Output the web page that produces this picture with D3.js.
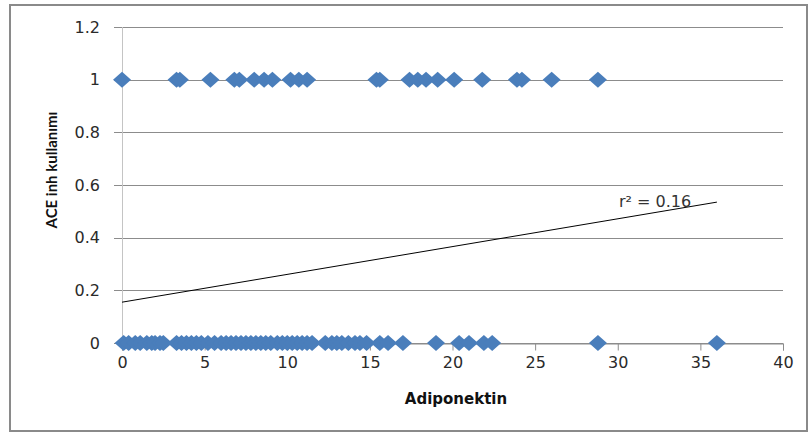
<!DOCTYPE html>
<html>
<head>
<meta charset="utf-8">
<script src="https://cdn.jsdelivr.net/npm/d3@7"></script>
<style>
  body { margin: 0; background: #fff; }
  svg { display: block; }
</style>
</head>
<body>
<div id="chart"></div>
<script>
// values (Adiponektin vs ACE inh kullanımı)
const usersX = [0, 3.3, 3.5, 5.35, 6.8, 7.1, 8.0, 8.6, 9.1, 10.2, 10.7, 11.2,
  15.4, 15.6, 17.4, 17.9, 18.4, 19.1, 20.1, 21.8, 23.9, 24.2, 26.0, 28.8];
const nonUsersX = [0.1, 0.4, 0.8, 1.1, 1.5, 1.8, 2.0, 2.3, 2.5, 3.3, 3.6, 3.9,
  4.2, 4.5, 4.8, 5.2, 5.6, 6.0, 6.3, 6.6, 6.9, 7.2, 7.5, 7.8, 8.1, 8.4, 8.7,
  9.0, 9.4, 9.7, 10.0, 10.3, 10.6, 10.9, 11.2, 11.5, 12.3, 12.7, 13.0, 13.3,
  13.7, 14.1, 14.4, 14.8, 15.6, 16.1, 17.0, 19.0, 20.4, 21.0, 21.9, 22.4,
  28.8, 36.0];
const trendX = [0, 36];
const trendY = [0.155, 0.535];
const xTicks = [0, 5, 10, 15, 20, 25, 30, 35, 40];
const yTicks = [0, 0.2, 0.4, 0.6, 0.8, 1, 1.2];
const xTitle = 'Adiponektin';
const yTitle = 'ACE inh kullanımı';
const fitLabel = 'r² = 0.16';

const width = 810, height = 437;
const margin = { top: 27, right: 27, bottom: 94, left: 122 };

const svg = d3.select('#chart').append('svg')
  .attr('width', width)
  .attr('height', height);

// outer chart border
svg.append('rect')
  .attr('x', 10).attr('y', 5)
  .attr('width', 797).attr('height', 426)
  .attr('fill', 'none')
  .attr('stroke', '#8a8a8a')
  .attr('stroke-width', 2);

const x = d3.scaleLinear().domain([0, 40]).range([margin.left, width - margin.right]);
const y = d3.scaleLinear().domain([0, 1.2]).range([height - margin.bottom, margin.top]);

// horizontal gridlines (with small tick stubs left of the axis)
svg.append('g')
  .selectAll('line')
  .data(yTicks)
  .join('line')
  .attr('x1', x(0) - 8)
  .attr('x2', x(40))
  .attr('y1', d => Math.round(y(d)) + 0.5)
  .attr('y2', d => Math.round(y(d)) + 0.5)
  .attr('stroke', '#8c8c8c')
  .attr('stroke-width', 1);

// y axis line
svg.append('line')
  .attr('x1', x(0) + 0.5).attr('x2', x(0) + 0.5)
  .attr('y1', y(1.2)).attr('y2', y(0))
  .attr('stroke', '#c4c4c4');

// x axis ticks
const xAxis = d3.axisBottom(x).tickValues(xTicks).tickSize(7).tickPadding(6).tickFormat(d3.format('d'));
svg.append('g')
  .attr('transform', `translate(0, ${Math.round(y(0)) + 0.5})`)
  .call(xAxis)
  .call(g => {
    g.select('.domain').attr('stroke', '#8c8c8c');
    g.selectAll('.tick line').attr('stroke', '#8c8c8c');
    g.selectAll('.tick text')
      .attr('fill', '#2a2a2a')
      .attr('font-family', 'DejaVu Sans, sans-serif')
      .attr('font-size', '16px');
  });

// y tick labels
svg.append('g')
  .selectAll('text')
  .data(yTicks)
  .join('text')
  .attr('x', 100)
  .attr('y', d => y(d))
  .attr('dy', '0.36em')
  .attr('text-anchor', 'end')
  .attr('fill', '#2a2a2a')
  .attr('font-family', 'DejaVu Sans, sans-serif')
  .attr('font-size', '16px')
  .text(d => d3.format('~g')(d));

// trendline
svg.append('path')
  .datum(trendX.map((d, i) => [d, trendY[i]]))
  .attr('d', d3.line().x(d => x(d[0])).y(d => y(d[1])))
  .attr('fill', 'none')
  .attr('stroke', '#000')
  .attr('stroke-width', 1);

// diamond markers
const diamond = 'M0,-8L9,0L0,8L-9,0Z';
const points = nonUsersX.map(v => [v, 0]).concat(usersX.map(v => [v, 1]));
svg.append('g')
  .selectAll('path')
  .data(points)
  .join('path')
  .attr('transform', d => `translate(${x(d[0])}, ${y(d[1])})`)
  .attr('d', diamond)
  .attr('fill', '#4a7ebb');

// r² label
svg.append('text')
  .attr('x', 619)
  .attr('y', 207)
  .attr('fill', '#333')
  .attr('font-family', 'DejaVu Sans, sans-serif')
  .attr('font-size', '16px')
  .text(fitLabel);

// axis titles
svg.append('text')
  .attr('x', 456)
  .attr('y', 404)
  .attr('text-anchor', 'middle')
  .attr('font-family', 'DejaVu Sans, sans-serif')
  .attr('font-weight', 'bold')
  .attr('font-size', '15px')
  .attr('fill', '#111')
  .text(xTitle);

svg.append('text')
  .attr('transform', 'translate(57, 170) rotate(-90)')
  .attr('text-anchor', 'middle')
  .attr('font-family', 'Lato, sans-serif')
  .attr('font-weight', 'bold')
  .attr('font-size', '15px')
  .attr('fill', '#111')
  .text(yTitle);
</script>
</body>
</html>
